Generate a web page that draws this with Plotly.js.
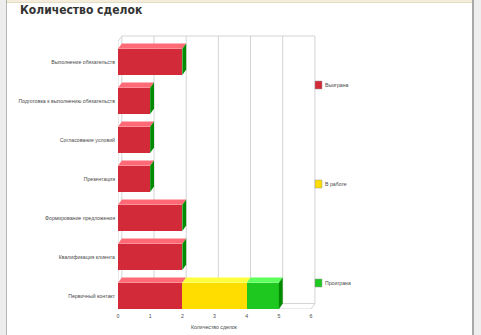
<!DOCTYPE html>
<html>
<head>
<meta charset="utf-8">
<script src="https://cdn.plot.ly/plotly-3.0.1.min.js"></script>
<style>
  html, body { margin: 0; padding: 0; background: #ffffff; }
  #wrap { position: relative; width: 481px; height: 335px; overflow: hidden; background: #ffffff; }
  #chart { position: absolute; left: 0; top: 0; width: 481px; height: 335px; }
  .fr { position: absolute; }
</style>
</head>
<body>
<div id="wrap">
  <div class="fr" style="left:0;top:0;width:6px;height:335px;background:#ededed;"></div>
  <div class="fr" style="left:6px;top:0;width:1px;height:335px;background:#b4b4b4;"></div>
  <div class="fr" style="left:7px;top:0;width:465px;height:2px;background:#f4eddc;border-bottom:1px solid #e6dcc4;"></div>
  <div class="fr" style="left:472px;top:0;width:2px;height:335px;background:#a8a8a8;"></div>
  <div class="fr" style="left:474px;top:0;width:7px;height:335px;background:#eeeeee;"></div>
  <div id="chart"></div>
</div>
<script>
// ---- data ----
var chartTitle = "Количество сделок";
var xAxisTitle = "Количество сделок";
// categories listed top to bottom as in the chart
var categories = [
  "Выполнение обязательств",
  "Подготовка к выполнению обязательств",
  "Согласование условий",
  "Презентация",
  "Формирование предложения",
  "Квалификация клиента",
  "Первичный контакт"
];
var seriesNames = ["Выиграна", "В работе", "Проиграна"];
var won      = [2, 1, 1, 1, 2, 2, 2];
var inWork   = [0, 0, 0, 0, 0, 0, 2];
var lost     = [0, 0, 0, 0, 0, 0, 1];
var xTicks   = [0, 1, 2, 3, 4, 5, 6];

// ---- styles ----
var smallFont = { size: 5.2, color: "#4a4a4a", family: "Liberation Sans, Arial, sans-serif" };
var frontColors = ["#d22a38", "#ffdd00", "#1ec81e"];
var topColors   = ["#ff6a76", "#ffff3c", "#5cff5c"];
var sideColor   = "#008a00";
var gridColor   = "#d4d4d4";
var n = categories.length;
var yIdx = categories.map(function (c, i) { return n - 1 - i; });
var seriesVals = [won, inWork, lost];
var barW = 0.67, half = barW / 2;
var dx = 0.12, dy = 0.14;
var xMax = 6, yBot = -half, yTopBack = 6.665;

var traces = seriesVals.map(function (vals, s) {
  return {
    type: "bar", orientation: "h",
    x: vals, y: yIdx, name: seriesNames[s],
    width: barW,
    marker: { color: frontColors[s], line: { width: 0 } },
    showlegend: false, hoverinfo: "x+name"
  };
});

var shapes = [];
function line(x0, y0, x1, y1) {
  shapes.push({ type: "line", xref: "x", yref: "y", x0: x0, y0: y0, x1: x1, y1: y1,
    line: { color: gridColor, width: 1 }, layer: "below" });
}
// back wall grid and floor
xTicks.forEach(function (t) {
  line(t + dx, yBot + dy, t + dx, yTopBack);
  line(t, yBot, t + dx, yBot + dy);
});
line(0, yBot, xMax, yBot);
line(dx, yBot + dy, xMax + dx, yBot + dy);
line(dx, yTopBack, xMax + dx, yTopBack);
line(0, yBot, 0, yTopBack - dy);
line(0, yTopBack - dy, dx, yTopBack);

// 3D faces of the bars
function poly(pts, color) {
  var p = "M" + pts.map(function (q) { return q[0] + "," + q[1]; }).join(" L") + " Z";
  shapes.push({ type: "path", xref: "x", yref: "y", path: p,
    fillcolor: color, line: { width: 0 }, layer: "above" });
}
categories.forEach(function (c, i) {
  var y = yIdx[i], base = 0;
  seriesVals.forEach(function (vals, s) {
    var v = vals[i];
    if (v > 0) {
      poly([[base, y + half], [base + dx, y + half + dy], [base + v + dx, y + half + dy], [base + v, y + half]], topColors[s]);
      base += v;
    }
  });
  poly([[base, y - half], [base + dx, y - half + dy], [base + dx, y + half + dy], [base, y + half]], sideColor);
});

// legend (manual, to match spacing of the original)
var L = 118, PW = 202, B = 309, PH = 275;
function px2x(px) { return (px - L) / PW; }
function py2y(py) { return (B - py) / PH; }
var legendY = [85, 184, 283];
var annotations = [];
seriesNames.forEach(function (nm, s) {
  shapes.push({ type: "rect", xref: "paper", yref: "paper",
    x0: px2x(315), x1: px2x(322), y0: py2y(legendY[s] + 4), y1: py2y(legendY[s] - 4),
    fillcolor: frontColors[s], line: { color: "#999999", width: 0.5 }, layer: "above" });
  annotations.push({ xref: "paper", yref: "paper", x: px2x(323), y: py2y(legendY[s]),
    xanchor: "left", yanchor: "middle", showarrow: false, text: nm, font: smallFont });
});
annotations.push({ xref: "x", yref: "paper", x: 3, y: py2y(327), xanchor: "center", yanchor: "middle",
  showarrow: false, text: xAxisTitle, font: smallFont });

var layout = {
  width: 481, height: 335,
  paper_bgcolor: "rgba(0,0,0,0)", plot_bgcolor: "rgba(0,0,0,0)",
  margin: { l: L, r: 481 - L - PW, t: B - PH, b: 335 - B, pad: 0 },
  title: { text: "<b>" + chartTitle + "</b>", x: 20 / 481, xanchor: "left", xref: "container",
    y: 1 - 10 / 335, yanchor: "middle", yref: "container",
    font: { size: 12, color: "#333333", family: "DejaVu Sans Condensed, Arial, sans-serif" } },
  barmode: "stack", bargap: 0,
  xaxis: { range: [0, PW / 32.17], tickvals: xTicks, ticktext: xTicks.map(String),
    showgrid: false, zeroline: false, showline: false, ticks: "", ticklabelstandoff: 3,
    tickfont: smallFont, fixedrange: true },
  yaxis: { range: [yBot, yBot + PH / 39], tickvals: yIdx, ticktext: categories,
    showgrid: false, zeroline: false, showline: false, ticks: "", ticklabelstandoff: 2,
    tickfont: smallFont, fixedrange: true },
  shapes: shapes, annotations: annotations, showlegend: false
};
Plotly.newPlot("chart", traces, layout, { staticPlot: true, displayModeBar: false });
</script>
</body>
</html>
